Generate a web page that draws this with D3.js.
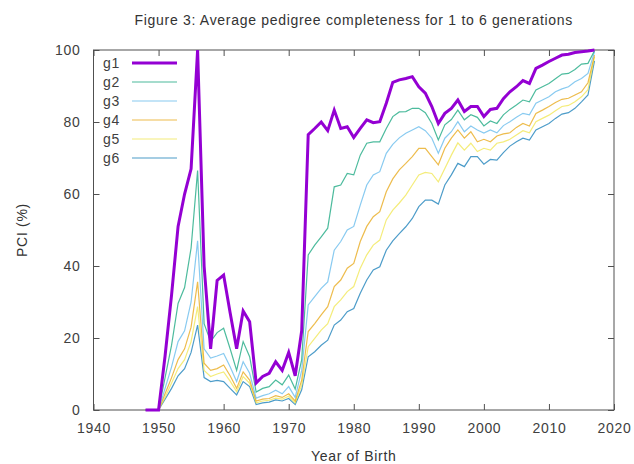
<!DOCTYPE html>
<html lang="en">
<head>
<meta charset="utf-8">
<title>Average pedigree completeness</title>
<script src="https://cdn.jsdelivr.net/npm/d3@7"></script>
<style>
  body { margin: 0; background: #fff; }
  text { font-family: "Liberation Sans", Arial, sans-serif; letter-spacing: 0.7px; }
</style>
</head>
<body>
<script>
// years of birth 1948..2017
var years = d3.range(1948, 2018);

var g1 = [0, 0, 0, 15, 32, 51, 60, 67, 100, 40, 17, 36, 37.5, 27, 17, 27.5, 24.5, 7.5, 9.3, 10.2,
  13.4, 11, 16, 9.5, 22, 76.5, 78.2, 80, 77.6, 83.3, 78.2, 78.7, 75.7, 78.2, 80.6, 79.8, 80.1, 85.2,
  91, 91.7, 92.1, 92.6, 89.8, 88, 84.3, 79.6, 82.4, 83.8, 86.1, 82.9, 84.3, 84.3, 81.5, 83.5, 83.8,
  86.5, 88.4, 89.8, 91.5, 90.7, 94.9, 95.8, 96.8, 97.7, 98.6, 98.8, 99.3, 99.5, 99.7, 100];
var g2 = [0, 0, 0, 9, 18, 29.6, 34, 45, 66.5, 24, 19, 21.5, 22.7, 17, 11, 19, 14.8, 5, 6, 6.5,
  8.3, 7, 9.7, 5.8, 14, 43.1, 45.8, 48.1, 50.5, 62, 62.5, 65.7, 65.3, 70.8, 74.1, 74.5, 74.5, 78.2,
  81.5, 82.8, 82.9, 83.8, 83.8, 82.6, 79.6, 75, 79.2, 80.7, 83.3, 80.6, 82, 81.3, 78.9, 80.3, 79.6,
  82, 83.5, 84.7, 86.1, 85.6, 88.9, 89.8, 90.7, 92, 93.3, 93.5, 94.6, 96.1, 96.3, 99.8];
var g3 = [0, 0, 0, 6, 12, 19, 22, 30, 47, 17, 14.4, 15, 15.7, 12, 7.9, 13.4, 10.2, 3.3, 4, 4.5,
  5.5, 4.5, 6.5, 3.5, 11, 29.2, 31.5, 33.8, 35.6, 44.4, 46.8, 50, 51, 56.9, 62.5, 65.3, 66.2, 71.3,
  73.8, 75.6, 76.9, 77.8, 78.7, 77.6, 75.5, 71.3, 75.5, 77.3, 80.1, 77.3, 78.9, 77.8, 76.9, 77.8, 77,
  79, 80.1, 81.3, 82.4, 82, 85.2, 86.1, 87, 88.4, 89.2, 89.8, 91.2, 92.1, 93.5, 99.5];
var g4 = [0, 0, 0, 4.5, 9, 14, 17, 23, 35.6, 13, 11, 11.5, 12.5, 9.5, 6, 10.6, 8.3, 2.5, 3, 3.2,
  4, 3.5, 4.5, 2.5, 8.3, 21.8, 24, 26.4, 28.7, 34.3, 36.1, 39.4, 40.7, 46.8, 51, 53.7, 55.1, 60.6,
  64.2, 66.7, 68.5, 70.4, 72.7, 72.7, 70.4, 68.1, 72.7, 75.5, 77.8, 75.5, 77.3, 74.5, 75.2, 74.5, 76.1,
  76.7, 77, 78.5, 79.6, 78.9, 82.4, 83.3, 84.3, 85.4, 86.3, 86.6, 87.5, 88.4, 90.9, 98.6];
var g5 = [0, 0, 0, 3.5, 7.5, 11.5, 14, 19, 28.7, 11, 9.3, 10, 10.6, 8, 5.1, 9.3, 7.4, 2, 2.5, 2.7,
  3.3, 3, 3.8, 2, 6.9, 17.6, 19.9, 22.2, 24, 28.7, 30.6, 32.9, 34.3, 39.4, 43.1, 45.8, 47.2, 52.8,
  55.5, 57.5, 59.7, 62.5, 65.3, 66, 65.7, 63.4, 67.1, 70.8, 74.2, 72.2, 74.1, 71.8, 72.7, 72.2, 74.1,
  74.5, 75.2, 76.4, 77.6, 77, 80.1, 81, 81.9, 83.1, 84.3, 84.6, 85.6, 87, 89, 98.1];
var g6 = [0, 0, 0, 3, 6, 9.5, 11.5, 16, 23.6, 9, 7.9, 8.2, 7.9, 6, 4.2, 7.9, 6.5, 1.5, 2, 2.2,
  2.8, 2.5, 3.2, 1.5, 5.6, 14.8, 16.2, 18, 19.4, 23.6, 25, 27.3, 28.2, 32.4, 36.1, 38.9, 39.8, 44.4,
  47, 49, 50.9, 53.2, 56.5, 58.3, 58.3, 57.2, 62.5, 65.3, 68.5, 67.6, 70.4, 70.4, 68.3, 69.6, 69.4,
  71.5, 73.3, 74.5, 75.5, 75, 77.8, 78.7, 79.6, 81, 82.2, 82.6, 83.8, 85.6, 87.5, 97];

var seriesNames = ["g1", "g2", "g3", "g4", "g5", "g6"];
var xTicks = d3.range(1940, 2021, 10);
var yTicks = d3.range(0, 101, 20);

var w = 634, h = 464;
// plot box (note: "top" is a reserved window property, so use other names)
var plotLeft = 93.5, plotRight = 614, plotTop = 50, plotBottom = 410;

var colors = ["#9400d3", "#009e73", "#56b4e9", "#e69f00", "#f0e442", "#0072b2"];
var widths = [3, 1.2, 1.2, 1.2, 1.2, 1.2];
var allSeries = [g1, g2, g3, g4, g5, g6];

var xScale = d3.scaleLinear().domain([1940, 2020]).range([plotLeft, plotRight]);
var yScale = d3.scaleLinear().domain([0, 100]).range([plotBottom, plotTop]);

var svg = d3.select("body").append("svg")
  .attr("width", w)
  .attr("height", h);

// frame
svg.append("rect")
  .attr("x", plotLeft).attr("y", plotTop)
  .attr("width", plotRight - plotLeft).attr("height", plotBottom - plotTop)
  .attr("fill", "none").attr("stroke", "#505050").attr("stroke-width", 1);

// axes with inward ticks, mirrored on top and right
var tickLen = 6;
svg.append("g").attr("transform", "translate(0," + plotBottom + ")")
  .call(d3.axisBottom(xScale).tickValues(xTicks).tickFormat(d3.format("d")).tickSizeInner(-tickLen).tickSizeOuter(0).tickPadding(13));
svg.append("g").attr("transform", "translate(0," + plotTop + ")")
  .call(d3.axisTop(xScale).tickValues(xTicks).tickFormat("").tickSizeInner(-tickLen).tickSizeOuter(0));
svg.append("g").attr("transform", "translate(" + plotLeft + ",0)")
  .call(d3.axisLeft(yScale).tickValues(yTicks).tickSizeInner(-tickLen).tickSizeOuter(0).tickPadding(13));
svg.append("g").attr("transform", "translate(" + plotRight + ",0)")
  .call(d3.axisRight(yScale).tickValues(yTicks).tickFormat("").tickSizeInner(-tickLen).tickSizeOuter(0));

svg.selectAll(".domain").remove();
svg.selectAll(".tick line").attr("stroke", "#505050");
svg.selectAll(".tick text").attr("font-size", "14px").attr("fill", "#404040")
  .attr("font-family", "Liberation Sans, Arial, sans-serif");

// lines
var line = d3.line()
  .x(function(d, i) { return xScale(years[i]); })
  .y(function(d) { return yScale(d); });

// draw g6 first so g1 sits on top
for (var k = allSeries.length - 1; k >= 0; k--) {
  svg.append("path")
    .datum(allSeries[k])
    .attr("d", line)
    .attr("fill", "none")
    .attr("stroke", colors[k])
    .attr("stroke-opacity", k === 0 ? 1 : 0.7)
    .attr("stroke-width", widths[k])
    .attr("stroke-linejoin", "miter");
}

// legend
var legend = svg.append("g");
seriesNames.forEach(function(name, i) {
  var ly = 63 + i * 19;
  legend.append("text")
    .attr("x", 103).attr("y", ly).attr("dy", "0.35em")
    .attr("font-size", "14px").attr("fill", "#404040")
    .text(name);
  legend.append("line")
    .attr("x1", 132).attr("x2", 177).attr("y1", ly).attr("y2", ly)
    .attr("stroke", colors[i])
    .attr("stroke-opacity", i === 0 ? 1 : 0.7)
    .attr("stroke-width", widths[i]);
});

// titles
svg.append("text")
  .attr("x", (plotLeft + plotRight) / 2).attr("y", 20).attr("dy", "0.35em")
  .attr("text-anchor", "middle").attr("font-size", "14px").attr("fill", "#333")
  .text("Figure 3: Average pedigree completeness for 1 to 6 generations");

svg.append("text")
  .attr("x", (plotLeft + plotRight) / 2).attr("y", 456).attr("dy", "0.35em")
  .attr("text-anchor", "middle").attr("font-size", "14px").attr("fill", "#333")
  .text("Year of Birth");

svg.append("text")
  .attr("transform", "translate(22," + (plotTop + plotBottom) / 2 + ") rotate(-90)")
  .attr("dy", "0.35em")
  .attr("text-anchor", "middle").attr("font-size", "14px").attr("fill", "#333")
  .text("PCI (%)");
</script>
</body>
</html>
